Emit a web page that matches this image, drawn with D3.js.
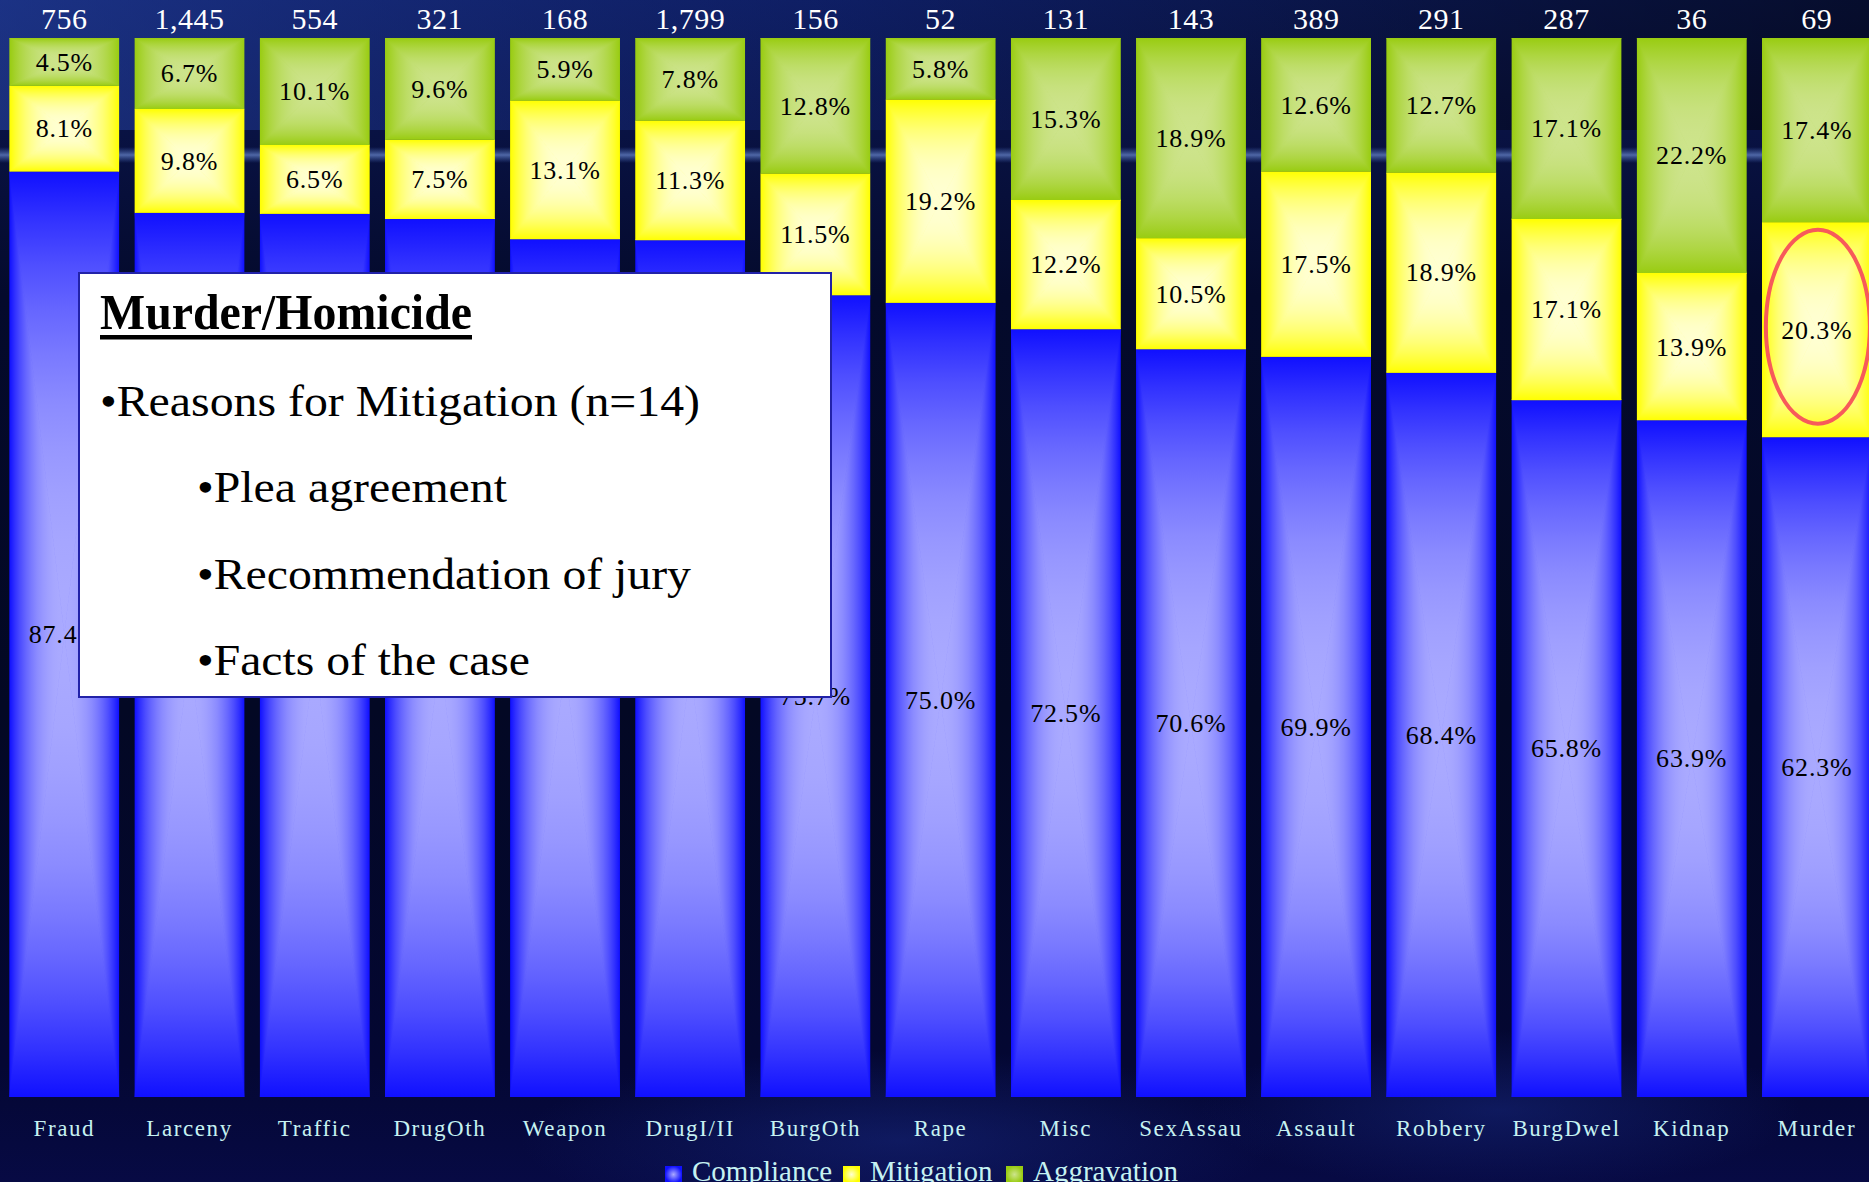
<!DOCTYPE html>
<html>
<head>
<meta charset="utf-8">
<script src="https://cdn.jsdelivr.net/npm/d3@7"></script>
<style>
  html, body { margin: 0; padding: 0; background: #03061e; overflow: hidden; }
  svg { display: block; }
</style>
</head>
<body>
<svg id="chart" width="1869" height="1182"></svg>
<script>
// ---------------- data ----------------
const categories = ["Fraud","Larceny","Traffic","DrugOth","Weapon","DrugI/II","BurgOth","Rape","Misc","SexAssau","Assault","Robbery","BurgDwel","Kidnap","Murder"];
const counts      = [756, 1445, 554, 321, 168, 1799, 156, 52, 131, 143, 389, 291, 287, 36, 69];
const compliance  = [87.4, 83.5, 83.4, 82.9, 81.0, 80.9, 75.7, 75.0, 72.5, 70.6, 69.9, 68.4, 65.8, 63.9, 62.3];
const mitigation  = [8.1, 9.8, 6.5, 7.5, 13.1, 11.3, 11.5, 19.2, 12.2, 10.5, 17.5, 18.9, 17.1, 13.9, 20.3];
const aggravation = [4.5, 6.7, 10.1, 9.6, 5.9, 7.8, 12.8, 5.8, 15.3, 18.9, 12.6, 12.7, 17.1, 22.2, 17.4];
const seriesNames = ["Compliance", "Mitigation", "Aggravation"];
const noteTitle = "Murder/Homicide";
const noteLines = ["•Reasons for Mitigation (n=14)", "•Plea agreement", "•Recommendation of jury", "•Facts of the case"];
const highlightCategory = "Murder";
const highlightSeries = "Mitigation";

// --------------- setup ----------------
const W = 1869, H = 1182;
const svg = d3.select("#chart");
const defs = svg.append("defs");

const rows = categories.map((c, i) => ({
  cat: c, n: counts[i],
  Compliance: compliance[i], Mitigation: mitigation[i], Aggravation: aggravation[i]
}));

const x = d3.scaleBand().domain(categories).range([9.5, 1871.7]).paddingInner(0.124).paddingOuter(0);
const y = d3.scaleLinear().domain([0, 100]).range([1097, 38]);

const palette = {
  Compliance:  { edge: "#1010ff", center: "#aaaaff" },
  Mitigation:  { edge: "#ffff00", center: "#ffffd2" },
  Aggravation: { edge: "#99cc11", center: "#cde48c" }
};

// ------------- background -------------
const bgV = defs.append("linearGradient").attr("id", "bgV").attr("x1", 0).attr("x2", 0).attr("y1", 0).attr("y2", 1);
[[0, "#0c1a5a"], [0.08, "#0a1448"], [0.25, "#040a2c"], [0.6, "#030824"], [0.9, "#040733"], [1, "#070a44"]]
  .forEach(([o, c]) => bgV.append("stop").attr("offset", o).attr("stop-color", c));
svg.append("rect").attr("width", W).attr("height", H).attr("fill", "url(#bgV)");

const bgH = defs.append("linearGradient").attr("id", "bgH").attr("x1", 0).attr("x2", 1).attr("y1", 0).attr("y2", 0);
[[0, "#2846a8", 0.55], [0.45, "#14287a", 0.3], [0.8, "#000000", 0.3], [1, "#000000", 0.5]]
  .forEach(([o, c, op]) => bgH.append("stop").attr("offset", o).attr("stop-color", c).attr("stop-opacity", op));
svg.append("rect").attr("width", W).attr("height", 130).attr("fill", "url(#bgH)");

const streak = defs.append("linearGradient").attr("id", "streak").attr("x1", 0).attr("x2", 0).attr("y1", 0).attr("y2", 1);
[[0, "#4a6ec0", 0], [0.5, "#6d8cd2", 0.7], [1, "#4a6ec0", 0]]
  .forEach(([o, c, op]) => streak.append("stop").attr("offset", o).attr("stop-color", c).attr("stop-opacity", op));
svg.append("rect").attr("x", 0).attr("y", 147).attr("width", W).attr("height", 16).attr("fill", "url(#streak)");

const glow = defs.append("radialGradient").attr("id", "glow");
glow.append("stop").attr("offset", 0).attr("stop-color", "#1a2e8a").attr("stop-opacity", 0.45);
glow.append("stop").attr("offset", 1).attr("stop-color", "#1a2e8a").attr("stop-opacity", 0);
svg.append("ellipse").attr("cx", 900).attr("cy", 1140).attr("rx", 380).attr("ry", 90).attr("fill", "url(#glow)");
svg.append("ellipse").attr("cx", 1500).attr("cy", 1110).attr("rx", 300).attr("ry", 80).attr("fill", "url(#glow)");

// ------------- path-gradient fills -------------
function makeGrad(id, edge, center, dir) {
  const g = defs.append("linearGradient").attr("id", id).attr("gradientUnits", "objectBoundingBox");
  const coords = { l: [0, 0, 1, 0], r: [1, 0, 0, 0], t: [0, 0, 0, 1], b: [0, 1, 0, 0] }[dir];
  g.attr("x1", coords[0]).attr("y1", coords[1]).attr("x2", coords[2]).attr("y2", coords[3]);
  const interp = d3.interpolateRgb(edge, center);
  d3.range(0, 1.0001, 0.1).forEach(t => {
    g.append("stop").attr("offset", t).attr("stop-color", interp(1 - Math.pow(1 - t, 2.3)));
  });
}
seriesNames.forEach(s => ["l", "r", "t", "b"].forEach(d => makeGrad(`g-${s}-${d}`, palette[s].edge, palette[s].center, d)));

// ------------- bars -------------
const stack = d3.stack().keys(seriesNames);
const stacked = stack(rows);

const barsG = svg.append("g");
stacked.forEach(layer => {
  const key = layer.key;
  layer.forEach((d, i) => {
    const cat = categories[i];
    const x0 = x(cat), x1 = x(cat) + x.bandwidth();
    const yTop = y(d[1]), yBot = y(d[0]);
    const cx = (x0 + x1) / 2, cy = (yTop + yBot) / 2;
    const g = barsG.append("g");
    const clipId = `clip-${key}-${i}`;
    defs.append("clipPath").attr("id", clipId).append("rect")
      .attr("x", x0).attr("y", yTop).attr("width", x1 - x0).attr("height", yBot - yTop);
    const inner = g.append("g").attr("clip-path", `url(#${clipId})`);
    inner.append("rect").attr("x", x0).attr("y", yTop).attr("width", x1 - x0).attr("height", yBot - yTop)
      .attr("fill", palette[key].edge);
    const tri = (pts, dir) => inner.append("path")
      .attr("d", "M" + pts.map(p => p.join(",")).join("L") + "Z")
      .attr("fill", `url(#g-${key}-${dir})`)
      .attr("stroke", `url(#g-${key}-${dir})`).attr("stroke-width", 0.8).attr("stroke-linejoin", "round");
    tri([[x0, yTop], [x0, yBot], [cx, cy]], "l");
    tri([[x1, yTop], [x1, yBot], [cx, cy]], "r");
    tri([[x0, yTop], [x1, yTop], [cx, cy]], "t");
    tri([[x0, yBot], [x1, yBot], [cx, cy]], "b");
    g.append("text")
      .attr("x", cx).attr("y", cy).attr("dy", "0.34em")
      .attr("text-anchor", "middle")
      .attr("font-family", "'Liberation Serif', 'Times New Roman', serif")
      .attr("font-size", 26).attr("letter-spacing", 0.8)
      .attr("fill", "#000")
      .text(d3.format(".1f")(d.data[key]) + "%");
  });
});

// ------------- counts on top -------------
svg.append("g").selectAll("text").data(rows).join("text")
  .attr("x", d => x(d.cat) + x.bandwidth() / 2).attr("y", 29)
  .attr("text-anchor", "middle")
  .attr("font-family", "'Liberation Serif', 'Times New Roman', serif")
  .attr("font-size", 30).attr("letter-spacing", 0.5)
  .attr("fill", "#ffffff")
  .text(d => d3.format(",")(d.n));

// ------------- category axis -------------
const xAxis = d3.axisBottom(x).tickSize(0).tickPadding(0);
const axG = svg.append("g").attr("transform", "translate(0,1097)").call(xAxis);
axG.select(".domain").remove();
axG.selectAll("text")
  .attr("y", 39).attr("dy", 0)
  .attr("font-family", "'Liberation Serif', 'Times New Roman', serif")
  .attr("font-size", 23).attr("letter-spacing", 1.6)
  .attr("fill", "#c6f2f2");

// ------------- legend -------------
const legendX = [665, 843, 1006];
seriesNames.forEach((s, i) => {
  const rg = defs.append("radialGradient").attr("id", `leg-${s}`);
  rg.append("stop").attr("offset", 0).attr("stop-color", palette[s].center);
  rg.append("stop").attr("offset", 1).attr("stop-color", palette[s].edge);
  svg.append("rect").attr("x", legendX[i]).attr("y", 1166).attr("width", 17).attr("height", 17)
    .attr("fill", `url(#leg-${s})`);
  svg.append("text").attr("x", legendX[i] + 27).attr("y", 1181)
    .attr("font-family", "'Liberation Serif', 'Times New Roman', serif")
    .attr("font-size", 29).attr("fill", "#c6f2f2")
    .text(s);
});

// ------------- highlight ellipse -------------
const mIdx = categories.indexOf(highlightCategory);
const mLayer = stacked[seriesNames.indexOf(highlightSeries)][mIdx];
svg.append("ellipse")
  .attr("cx", x(highlightCategory) + x.bandwidth() / 2 + 1)
  .attr("cy", (y(mLayer[0]) + y(mLayer[1])) / 2 - 3)
  .attr("rx", 52).attr("ry", 97)
  .attr("fill", "none").attr("stroke", "#f75a5a").attr("stroke-width", 4);

// ------------- note box -------------
const box = svg.append("g");
box.append("rect").attr("x", 79).attr("y", 273).attr("width", 752).attr("height", 424)
  .attr("fill", "#ffffff").attr("stroke", "#2222a8").attr("stroke-width", 2);
box.append("text").attr("x", 100).attr("y", 329)
  .attr("font-family", "'Liberation Serif', 'Times New Roman', serif")
  .attr("font-size", 50).attr("font-weight", "bold").attr("fill", "#000")
  .attr("textLength", 372).attr("lengthAdjust", "spacingAndGlyphs")
  .text(noteTitle);
box.append("rect").attr("x", 100).attr("y", 335).attr("width", 372).attr("height", 4.5).attr("fill", "#000");
const lineSpecs = [
  { x: 100, y: 416, len: 600 },
  { x: 197, y: 502, len: 310 },
  { x: 197, y: 589, len: 494 },
  { x: 197, y: 675, len: 333 }
];
noteLines.forEach((t, i) => {
  box.append("text").attr("x", lineSpecs[i].x).attr("y", lineSpecs[i].y)
    .attr("font-family", "'Liberation Serif', 'Times New Roman', serif")
    .attr("font-size", 45).attr("fill", "#000")
    .attr("textLength", lineSpecs[i].len).attr("lengthAdjust", "spacingAndGlyphs")
    .text(t);
});
</script>
</body>
</html>
